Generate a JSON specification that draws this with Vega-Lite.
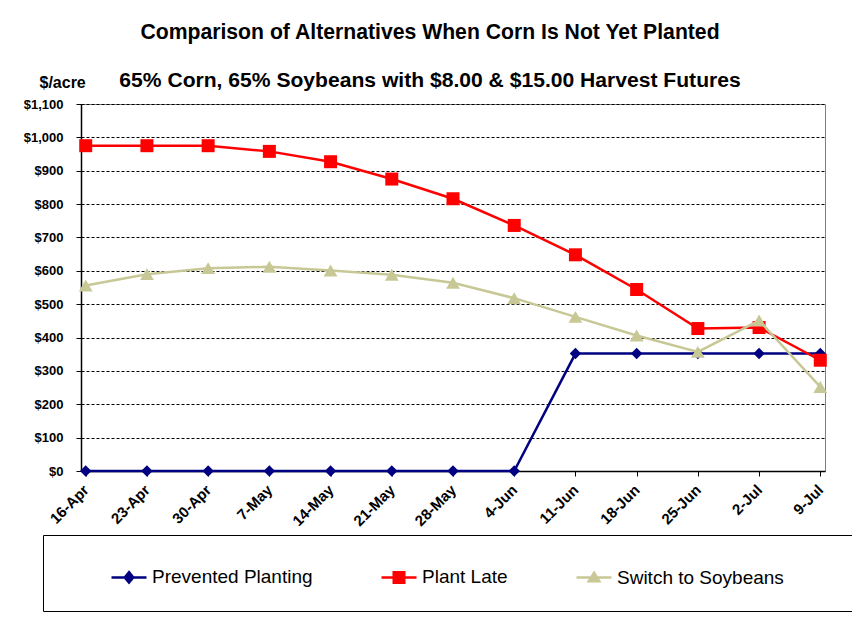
{
  "$schema": "https://vega.github.io/schema/vega-lite/v6.json",
  "width": 744,
  "height": 367,
  "autosize": {"type": "none"},
  "padding": {"left": 81, "top": 104, "right": 27, "bottom": 153},
  "background": "white",
  "title": {
    "text": "Comparison of Alternatives  When Corn Is Not Yet Planted",
    "subtitle": "65% Corn, 65% Soybeans with $8.00 & $15.00 Harvest Futures",
    "anchor": "middle",
    "frame": "group",
    "dx": -23,
    "offset": -17,
    "font": "Liberation Sans",
    "fontSize": 21.2,
    "fontWeight": "bold",
    "color": "black",
    "subtitleFont": "Liberation Sans",
    "subtitleFontSize": 21.1,
    "subtitleFontWeight": "bold",
    "subtitleColor": "black",
    "subtitlePadding": 27
  },
  "config": {"view": {"stroke": "#808080", "strokeWidth": 1}},
  "data": {
    "values": [
      {"date": "16-Apr", "series": "Prevented Planting", "value": 0},
      {"date": "23-Apr", "series": "Prevented Planting", "value": 0},
      {"date": "30-Apr", "series": "Prevented Planting", "value": 0},
      {"date": "7-May", "series": "Prevented Planting", "value": 0},
      {"date": "14-May", "series": "Prevented Planting", "value": 0},
      {"date": "21-May", "series": "Prevented Planting", "value": 0},
      {"date": "28-May", "series": "Prevented Planting", "value": 0},
      {"date": "4-Jun", "series": "Prevented Planting", "value": 0},
      {"date": "11-Jun", "series": "Prevented Planting", "value": 352},
      {"date": "18-Jun", "series": "Prevented Planting", "value": 352},
      {"date": "25-Jun", "series": "Prevented Planting", "value": 352},
      {"date": "2-Jul", "series": "Prevented Planting", "value": 352},
      {"date": "9-Jul", "series": "Prevented Planting", "value": 352},
      {"date": "16-Apr", "series": "Plant Late", "value": 975},
      {"date": "23-Apr", "series": "Plant Late", "value": 975},
      {"date": "30-Apr", "series": "Plant Late", "value": 975},
      {"date": "7-May", "series": "Plant Late", "value": 958},
      {"date": "14-May", "series": "Plant Late", "value": 927},
      {"date": "21-May", "series": "Plant Late", "value": 875},
      {"date": "28-May", "series": "Plant Late", "value": 816},
      {"date": "4-Jun", "series": "Plant Late", "value": 736},
      {"date": "11-Jun", "series": "Plant Late", "value": 648},
      {"date": "18-Jun", "series": "Plant Late", "value": 544},
      {"date": "25-Jun", "series": "Plant Late", "value": 427},
      {"date": "2-Jul", "series": "Plant Late", "value": 430},
      {"date": "9-Jul", "series": "Plant Late", "value": 332},
      {"date": "16-Apr", "series": "Switch to Soybeans", "value": 556},
      {"date": "23-Apr", "series": "Switch to Soybeans", "value": 590},
      {"date": "30-Apr", "series": "Switch to Soybeans", "value": 608},
      {"date": "7-May", "series": "Switch to Soybeans", "value": 612},
      {"date": "14-May", "series": "Switch to Soybeans", "value": 601},
      {"date": "21-May", "series": "Switch to Soybeans", "value": 588},
      {"date": "28-May", "series": "Switch to Soybeans", "value": 564},
      {"date": "4-Jun", "series": "Switch to Soybeans", "value": 518},
      {"date": "11-Jun", "series": "Switch to Soybeans", "value": 462},
      {"date": "18-Jun", "series": "Switch to Soybeans", "value": 406},
      {"date": "25-Jun", "series": "Switch to Soybeans", "value": 357},
      {"date": "2-Jul", "series": "Switch to Soybeans", "value": 451},
      {"date": "9-Jul", "series": "Switch to Soybeans", "value": 252}
    ]
  },
  "encoding": {
    "x": {
      "field": "date",
      "type": "ordinal",
      "scale": {
        "type": "point",
        "padding": 0.077,
        "domain": ["16-Apr", "23-Apr", "30-Apr", "7-May", "14-May", "21-May", "28-May", "4-Jun", "11-Jun", "18-Jun", "25-Jun", "2-Jul", "9-Jul"]
      },
      "axis": {
        "title": null,
        "labelAngle": -45,
        "labelAlign": "right",
        "labelBaseline": "middle",
        "labelFont": "Liberation Sans",
        "labelFontSize": 15,
        "labelFontWeight": "bold",
        "labelColor": "black",
        "labelPadding": 11,
        "labelOverlap": false,
        "tickColor": "black",
        "tickSize": 5,
        "domainColor": "black",
        "domainWidth": 1.5,
        "grid": false
      }
    },
    "y": {
      "field": "value",
      "type": "quantitative",
      "scale": {"domain": [0, 1100], "nice": false, "zero": true},
      "axis": {
        "values": [0, 100, 200, 300, 400, 500, 600, 700, 800, 900, 1000, 1100],
        "format": "$,.0f",
        "labelFont": "Liberation Sans",
        "labelFontSize": 13,
        "labelFontWeight": "bold",
        "labelColor": "black",
        "labelPadding": 13,
        "tickColor": "black",
        "tickSize": 5,
        "domainColor": "black",
        "domainWidth": 1.5,
        "grid": true,
        "gridColor": "black",
        "gridDash": [3, 2],
        "title": "$/acre",
        "titleAngle": 0,
        "titleAlign": "left",
        "titleBaseline": "alphabetic",
        "titleX": -42,
        "titleY": -17,
        "titleFont": "Liberation Sans",
        "titleFontSize": 16,
        "titleFontWeight": "bold",
        "titleColor": "black"
      }
    },
    "color": {
      "field": "series",
      "type": "nominal",
      "scale": {
        "domain": ["Prevented Planting", "Plant Late", "Switch to Soybeans", " "],
        "range": ["#000080", "#FF0000", "#C8C896", "transparent"]
      },
      "legend": {
        "orient": "none",
        "legendX": -38,
        "legendY": 431,
        "direction": "horizontal",
        "columns": 4,
        "title": " ",
        "titleOrient": "left",
        "titleFontSize": 2,
        "titlePadding": 44,
        "padding": 23,
        "strokeColor": "black",
        "fillColor": "white",
        "symbolSize": 1225,
        "symbolStrokeWidth": 2.5,
        "symbolOpacity": 1,
        "labelOffset": 4,
        "columnPadding": 63,
        "labelFont": "Liberation Sans",
        "labelFontSize": 19,
        "labelColor": "black",
        "labelLimit": 500
      }
    }
  },
  "layer": [
    {
      "transform": [{"filter": "datum.series == 'Prevented Planting'"}],
      "mark": {"type": "line", "strokeWidth": 2.5, "point": {"shape": "diamond", "size": 130, "filled": true, "strokeWidth": 0}}
    },
    {
      "transform": [{"filter": "datum.series == 'Plant Late'"}],
      "mark": {"type": "line", "strokeWidth": 2.5, "point": {"shape": "square", "size": 169, "filled": true, "strokeWidth": 0}}
    },
    {
      "transform": [{"filter": "datum.series == 'Switch to Soybeans'"}],
      "mark": {"type": "line", "strokeWidth": 2.5, "point": {"shape": "triangle-up", "size": 190, "filled": true, "strokeWidth": 0}}
    },
    {
      "transform": [{"filter": "datum.value < 0"}],
      "mark": {"type": "point", "filled": false, "size": 1225, "strokeWidth": 2.5},
      "encoding": {
        "shape": {
          "field": "series",
          "type": "nominal",
          "scale": {
            "domain": ["Prevented Planting", "Plant Late", "Switch to Soybeans", " "],
            "range": [
              "M-1,0H1 M0,-0.3L0.243,0L0,0.3L-0.243,0Z M0,-0.165L0.134,0L0,0.165L-0.134,0Z M0,-0.03L0.024,0L0,0.03L-0.024,0Z",
              "M-1,0H1 M-0.3,-0.3H0.3V0.3H-0.3Z M-0.17,-0.17H0.17V0.17H-0.17Z M-0.04,-0.04H0.04V0.04H-0.04Z",
              "M-1,0H1 M0,-0.27L0.3,0.22H-0.3Z M0,-0.107L0.15,0.138H-0.15Z M0,0.024L0.03,0.073H-0.03Z",
              "M0,0"
            ]
          }
        }
      }
    }
  ]
}
